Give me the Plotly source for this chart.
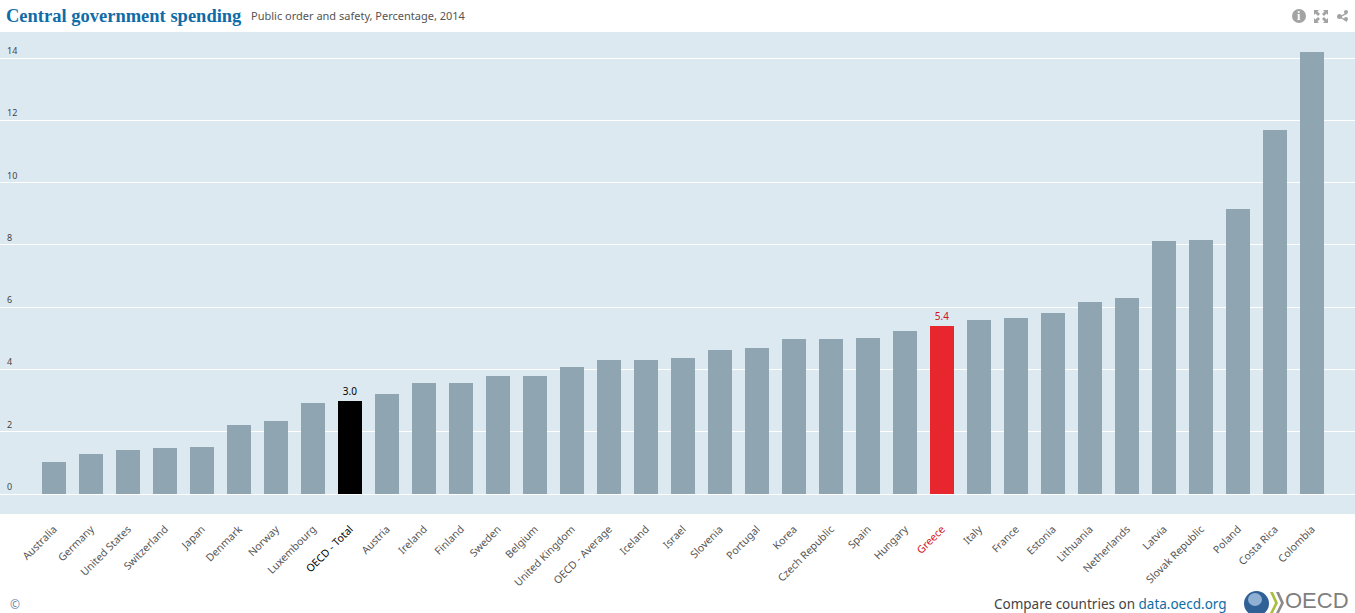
import plotly.graph_objects as go

# Share of central government spending on public order and safety, 2014
countries = ["Australia", "Germany", "United States", "Switzerland", "Japan", "Denmark", "Norway",
             "Luxembourg", "OECD - Total", "Austria", "Ireland", "Finland", "Sweden", "Belgium",
             "United Kingdom", "OECD - Average", "Iceland", "Israel", "Slovenia", "Portugal", "Korea",
             "Czech Republic", "Spain", "Hungary", "Greece", "Italy", "France", "Estonia", "Lithuania",
             "Netherlands", "Latvia", "Slovak Republic", "Poland", "Costa Rica", "Colombia"]
values = [1.03, 1.28, 1.41, 1.48, 1.51, 2.20, 2.34, 2.92, 3.0, 3.20, 3.56, 3.57, 3.79, 3.79,
          4.08, 4.30, 4.31, 4.37, 4.62, 4.69, 4.98, 4.98, 5.01, 5.23, 5.4, 5.59, 5.65, 5.81,
          6.17, 6.29, 8.12, 8.16, 9.15, 11.69, 14.19]
y_ticks = [0, 2, 4, 6, 8, 10, 12, 14]
highlights = {"OECD - Total": "#000000", "Greece": "#E8262D"}
label_colors = {"OECD - Total": "#000000", "Greece": "#D5131B"}

W, H = 1355, 613
TOP, BOTTOM = 32, 514
BAND = "#DDE9F1"
BAR = "#8FA5B2"
ICON = "#A3A3A3"
BLUE = "#0F6CA6"


def px(x):
    return x / W


def py(y):
    return 1 - (y - TOP) / (BOTTOM - TOP)


def path(points, close=True):
    s = "M " + " L ".join(f"{px(x):.5f},{py(y):.5f}" for x, y in points)
    return s + (" Z" if close else "")


bar_colors = [highlights.get(c, BAR) for c in countries]
bar_text = [f"{v:.1f}" if c in highlights else "" for c, v in zip(countries, values)]
text_colors = [label_colors.get(c, "#333333") for c in countries]
tick_text = [
    f'<span style="color:{label_colors[c]}">{c}</span>' if c in label_colors else c
    for c in countries
]

fig = go.Figure(go.Bar(
    x=list(range(len(countries))),
    y=values,
    width=24 / 37,
    marker=dict(color=bar_colors, line=dict(width=0)),
    text=bar_text,
    textposition="outside",
    cliponaxis=False,
    textfont=dict(family="Noto Sans", size=10, color=text_colors),
    hoverinfo="skip",
))

annotations = [
    dict(x=px(3.5), y=py(16), text="<b>Central government spending</b>", xanchor="left", yanchor="middle",
         font=dict(family="Liberation Serif", size=18.5, color=BLUE)),
    dict(x=px(249), y=py(16), text="Public order and safety, Percentage, 2014", xanchor="left", yanchor="middle",
         font=dict(family="Noto Sans", size=11, color="#555555")),
    dict(x=px(8), y=py(604), text="©", xanchor="left", yanchor="middle",
         font=dict(family="Noto Sans", size=12, color="#6E84A8")),
    dict(x=px(1229), y=py(604), xanchor="right", yanchor="middle",
         text=f'Compare countries on <span style="color:{BLUE}">data.oecd.org</span>',
         font=dict(family="Noto Sans", size=13.5, color="#444444")),
    dict(x=px(1283), y=py(600), text="OECD", xanchor="left", yanchor="middle",
         font=dict(family="Liberation Sans", size=22, color="#7F7F7F")),
    dict(x=px(1299), y=py(16), text="<b>i</b>", xanchor="center", yanchor="middle",
         font=dict(family="Liberation Serif", size=12, color="#FFFFFF")),
]
# Value-axis labels sit just above their gridlines, inside the plot band
for t in y_ticks:
    annotations.append(dict(x=px(5), y=t, yref="y", text=str(t), xanchor="left", yanchor="bottom",
                            yshift=-1, font=dict(family="Noto Sans", size=9, color="#444444")))
for a in annotations:
    a.setdefault("xref", "paper")
    a.setdefault("yref", "paper")
    a["showarrow"] = False

shapes = [
    # Info button
    dict(type="circle", x0=px(1292), x1=px(1306), y0=py(23), y1=py(9), fillcolor=ICON, line_width=0),
    # Share glyph
    dict(type="path", path=path([(1339, 17), (1347, 12), (1347, 14), (1341, 17), (1347, 20), (1347, 22)]),
         fillcolor=ICON, line_width=0),
    dict(type="circle", x0=px(1337), x1=px(1342), y0=py(19), y1=py(14), fillcolor=ICON, line_width=0),
    dict(type="circle", x0=px(1344), x1=px(1348), y0=py(14), y1=py(10), fillcolor=ICON, line_width=0),
    dict(type="circle", x0=px(1344), x1=px(1348), y0=py(21), y1=py(17), fillcolor=ICON, line_width=0),
    # Logo globe and chevrons
    dict(type="circle", x0=px(1244), x1=px(1269), y0=py(616), y1=py(591), fillcolor="#2F6096", line_width=0),
    dict(type="circle", x0=px(1248), x1=px(1262), y0=py(606), y1=py(593), fillcolor="#8FB0D3", line_width=0),
    dict(type="path", path=path([(1270, 592), (1273, 592), (1278, 603), (1273, 613), (1270, 613), (1275, 603)]),
         fillcolor="#A8BF3F", line_width=0),
    dict(type="path", path=path([(1276, 592), (1279, 592), (1284, 603), (1279, 613), (1276, 613), (1281, 603)]),
         fillcolor="#8C8C8C", line_width=0),
]
# Expand glyph: four corner arrows
for cx, cy, sx, sy in [(1314, 10, 1, 1), (1328, 10, -1, 1), (1314, 23, 1, -1), (1328, 23, -1, -1)]:
    shapes.append(dict(type="path",
                       path=path([(cx, cy), (cx + 5 * sx, cy), (cx + 3.5 * sx, cy + 1.5 * sy),
                                  (cx + 6 * sx, cy + 4 * sy), (cx + 4 * sx, cy + 6 * sy),
                                  (cx + 1.5 * sx, cy + 3.5 * sy), (cx, cy + 5 * sy)]),
                       fillcolor=ICON, line_width=0))
for s in shapes:
    s["xref"] = "paper"
    s["yref"] = "paper"

fig.update_layout(
    width=W, height=H, autosize=False,
    margin=dict(l=0, r=0, t=TOP, b=H - BOTTOM, pad=0),
    paper_bgcolor="#FFFFFF", plot_bgcolor=BAND,
    showlegend=False, bargap=0,
    annotations=annotations, shapes=shapes,
    xaxis=dict(
        range=[-54 / 37, (W - 54) / 37],
        tickmode="array", tickvals=list(range(len(countries))), ticktext=tick_text,
        tickangle=-45, ticks="", showgrid=False, zeroline=False,
        tickfont=dict(family="Noto Sans", size=10.5, color="#555555"),
        ticklabelstandoff=6,
    ),
    yaxis=dict(
        range=[-20 / 31.14, 462 / 31.14],
        tickmode="array", tickvals=y_ticks, showticklabels=False, ticks="",
        showgrid=True, gridcolor="#FFFFFF", gridwidth=1,
        zeroline=True, zerolinecolor="#FFFFFF", zerolinewidth=1,
    ),
)

fig.write_html("out.html", config={"displayModeBar": False})
